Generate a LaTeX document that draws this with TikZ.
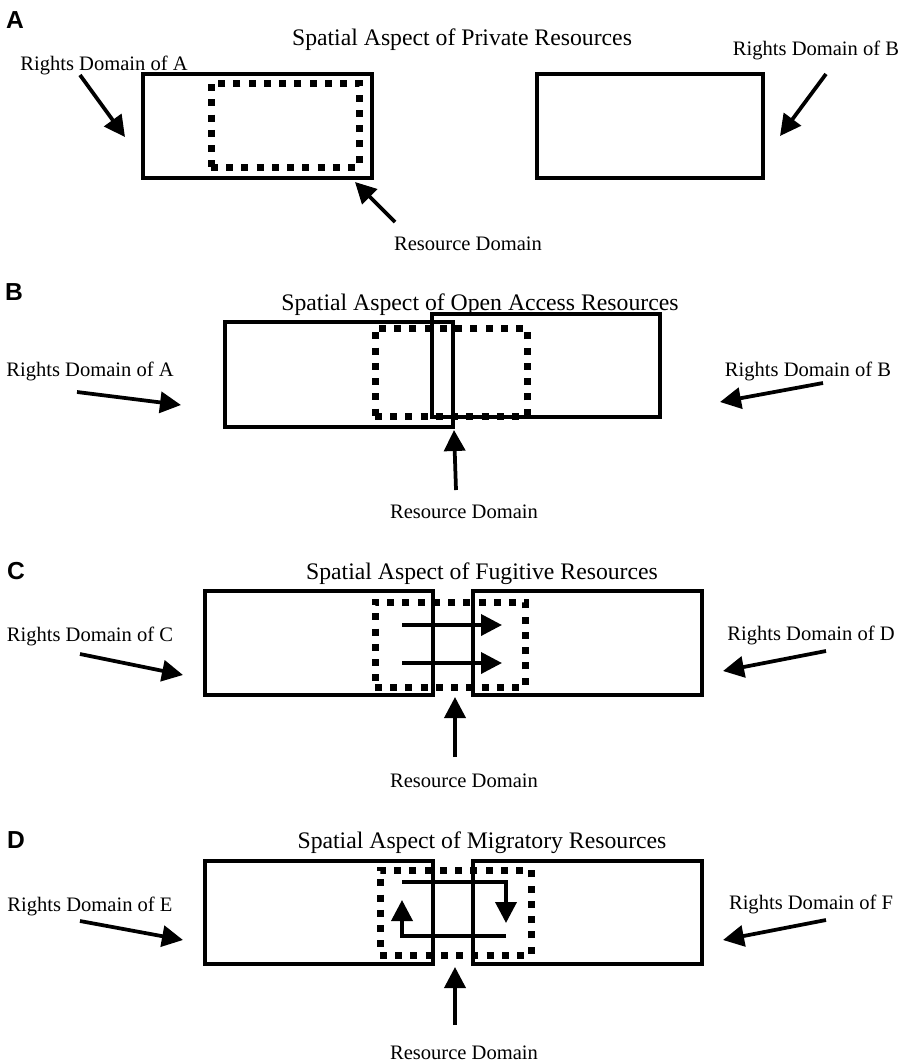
\documentclass[tikz,border=0pt]{standalone}
\usepackage{fontspec}
\setmainfont{Liberation Serif}
\newfontfamily\panelfont{Liberation Sans}
\usepackage{tikz}
\usetikzlibrary{arrows.meta,fit}
\tikzstyle{bigarrow}=[-{Triangle[length=0.42cm,width=0.42cm]},line width=0.075cm,black]
\tikzstyle{rightsbox}=[rectangle,draw,line width=0.07cm,inner sep=0pt]
\tikzstyle{resbox}=[rectangle,draw,line width=0.14cm,
              dash pattern=on 0.14cm off 0.165cm,inner sep=0pt]
\tikzstyle{lbltext}=[font=\fontsize{11.7}{14}\selectfont,inner sep=0pt]
\tikzstyle{titletext}=[font=\fontsize{13.5}{16}\selectfont,inner sep=0pt]
\tikzstyle{panelletter}=[font=\panelfont\bfseries\fontsize{14}{16}\selectfont,inner sep=0pt]

\begin{document}
\begin{tikzpicture}[x=0.02cm,y=-0.02cm]
	\useasboundingbox (0,0) rectangle (899,1062);

	% A: private
	\node[panelletter] (pA) at (15,20) {A};
	\node[titletext] (tA) at (462,40) {Spatial Aspect of Private Resources};
	\node[lbltext] (lA1) at (104,65) {Rights Domain of A};
	\node[lbltext] (lA2) at (816,50) {Rights Domain of B};
	\node[lbltext] (lA3) at (468,244) {Resource Domain};
	\node[rightsbox,fit={(143,74) (372,178)}] (dA1) {};
	\node[rightsbox,fit={(537,74) (763,178)}] (dA2) {};
	\node[resbox,fit={(211,83) (359,167)}] (rA) {};
	\coordinate (sA1) at (80,75);   \coordinate (eA1) at (125,137);
	\coordinate (sA2) at (826,74);  \coordinate (eA2) at (780,136);
	\coordinate (sA3) at (395,222); \coordinate (eA3) at (355,182);
	\path [bigarrow] (sA1) edge (eA1);
	\path [bigarrow] (sA2) edge (eA2);
	\path [bigarrow] (sA3) edge (eA3);

	% B: open access
	\node[panelletter] (pB) at (14,292) {B};
	\node[titletext] (tB) at (480,305) {Spatial Aspect of Open Access Resources};
	\node[lbltext] (lB1) at (90,371) {Rights Domain of A};
	\node[lbltext] (lB2) at (808,371) {Rights Domain of B};
	\node[lbltext] (lB3) at (464,512) {Resource Domain};
	\node[rightsbox,fit={(225,322) (453,427)}] (dB1) {};
	\node[rightsbox,fit={(432,314) (660,417)}] (dB2) {};
	\node[resbox,fit={(375,328) (527,416)}] (rB) {};
	\coordinate (sB1) at (77,392);  \coordinate (eB1) at (181,405);
	\coordinate (sB2) at (823,383); \coordinate (eB2) at (720,402);
	\coordinate (sB3) at (456,490); \coordinate (eB3) at (454,430);
	\path [bigarrow] (sB1) edge (eB1);
	\path [bigarrow] (sB2) edge (eB2);
	\path [bigarrow] (sB3) edge (eB3);

	% C: fugitive
	\node[panelletter] (pC) at (16,571) {C};
	\node[titletext] (tC) at (482,574) {Spatial Aspect of Fugitive Resources};
	\node[lbltext] (lC1) at (90,636) {Rights Domain of C};
	\node[lbltext] (lC2) at (811,635) {Rights Domain of D};
	\node[lbltext] (lC3) at (464,781) {Resource Domain};
	\node[rightsbox,fit={(205,591) (433,695)}] (dC1) {};
	\node[rightsbox,fit={(473,591) (702,695)}] (dC2) {};
	\node[resbox,fit={(375,602) (525,687)}] (rC) {};
	\coordinate (sC1) at (80,654);  \coordinate (eC1) at (183,675);
	\coordinate (sC2) at (826,651); \coordinate (eC2) at (723,671);
	\coordinate (sC3) at (455,757); \coordinate (eC3) at (455,697);
	\coordinate (fC1) at (402,625); \coordinate (gC1) at (502,625);
	\coordinate (fC2) at (402,663); \coordinate (gC2) at (502,663);
	\path [bigarrow] (sC1) edge (eC1);
	\path [bigarrow] (sC2) edge (eC2);
	\path [bigarrow] (sC3) edge (eC3);
	\path [bigarrow] (fC1) edge (gC1);
	\path [bigarrow] (fC2) edge (gC2);

	% D: migratory
	\node[panelletter] (pD) at (16,840) {D};
	\node[titletext] (tD) at (482,843) {Spatial Aspect of Migratory Resources};
	\node[lbltext] (lD1) at (90,906) {Rights Domain of E};
	\node[lbltext] (lD2) at (811,904) {Rights Domain of F};
	\node[lbltext] (lD3) at (464,1053) {Resource Domain};
	\node[rightsbox,fit={(205,861) (433,964)}] (dD1) {};
	\node[rightsbox,fit={(473,861) (702,964)}] (dD2) {};
	\node[resbox,fit={(380,870) (531,955)}] (rD) {};
	\coordinate (sD1) at (80,921);   \coordinate (eD1) at (183,940);
	\coordinate (sD2) at (826,920);  \coordinate (eD2) at (723,940);
	\coordinate (sD3) at (455,1025); \coordinate (eD3) at (455,967);
	\coordinate (fD1) at (402,882);  \coordinate (gD1) at (506,923);
	\coordinate (fD2) at (506,936);  \coordinate (gD2) at (402,900);
	\path [bigarrow] (sD1) edge (eD1);
	\path [bigarrow] (sD2) edge (eD2);
	\path [bigarrow] (sD3) edge (eD3);
	\draw [bigarrow] (fD1) -| (gD1);
	\draw [bigarrow] (fD2) -| (gD2);

\end{tikzpicture}
\end{document}
